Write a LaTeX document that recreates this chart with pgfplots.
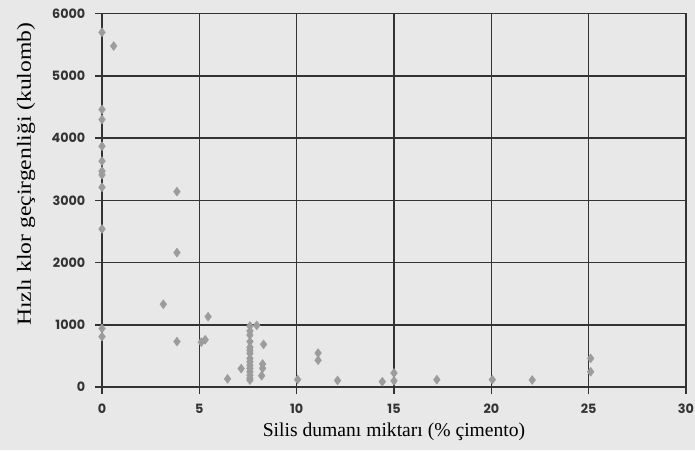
\documentclass[border=0pt]{standalone}
\usepackage{fontspec}
\setmainfont{Liberation Serif}
\newfontfamily\tickfont{Poppins}
\usepackage{graphicx}
\usepackage{pgfplots}
\pgfplotsset{compat=1.18}
\definecolor{bg}{HTML}{E8E8E8}
\definecolor{ptc}{HTML}{9C9C9C}
\definecolor{gridc}{HTML}{333333}
\begin{document}
\begin{tikzpicture}
\fill[bg] (-76.5pt,-47.25pt) rectangle (444.75pt,290.25pt);
\begin{axis}[
  scale only axis, width=438pt, height=280pt,
  xmin=0, xmax=30, ymin=0, ymax=6000,
  xtick={0,5,...,30}, ytick={0,1000,...,6000},
  grid=major,
  major grid style={gridc, line width=1.1pt},
  axis line style={gridc, line width=1.1pt},
  tick style={gridc, line width=1.1pt},
  tick align=outside, major tick length=5pt,
  xtick pos=bottom, ytick pos=left,
  ticklabel style={font=\tickfont\bfseries\fontsize{9.6}{12}\selectfont, text=black!80},
  xticklabel style={yshift=-4pt},
  yticklabel style={xshift=-4pt},
  /pgf/number format/assume math mode=true,
  /pgf/number format/1000 sep={},
]
\addplot[only marks, mark=diamond*, mark size=3.3pt, color=ptc] table {
x y
0 5700
0 4460
0 4300
0 3870
0 3630
0 3470
0 3410
0 3210
0 2540
0 940
0 810
0.6 5480
3.85 3140
3.85 2160
3.15 1330
3.85 730
5.1 720
5.3 760
5.45 1130
6.45 130
7.15 295
7.6 980
7.6 900
7.6 835
7.6 730
7.6 640
7.6 590
7.6 540
7.6 460
7.6 405
7.6 350
7.6 300
7.6 245
7.6 190
7.6 140
7.6 110
7.95 990
8.3 685
8.25 370
8.25 300
8.2 181
10.05 120
11.1 545
11.1 430
12.1 105
14.4 85
15.0 225
15.0 100
17.2 118
20.05 118
22.1 113
25.1 460
25.1 245
};
\end{axis}
\node[rotate=90] at (-57pt,159.6pt) {\scalebox{1.18}[1]{\fontsize{15}{18}\selectfont Hızlı klor geçirgenliği (kulomb)}};
\node at (219pt,-33.75pt) {\fontsize{14.7}{17}\selectfont Silis dumanı miktarı (\% çimento)};
\pgfresetboundingbox
\path[use as bounding box] (-76.5pt,-47.25pt) rectangle (444.75pt,290.25pt);
\end{tikzpicture}
\end{document}
